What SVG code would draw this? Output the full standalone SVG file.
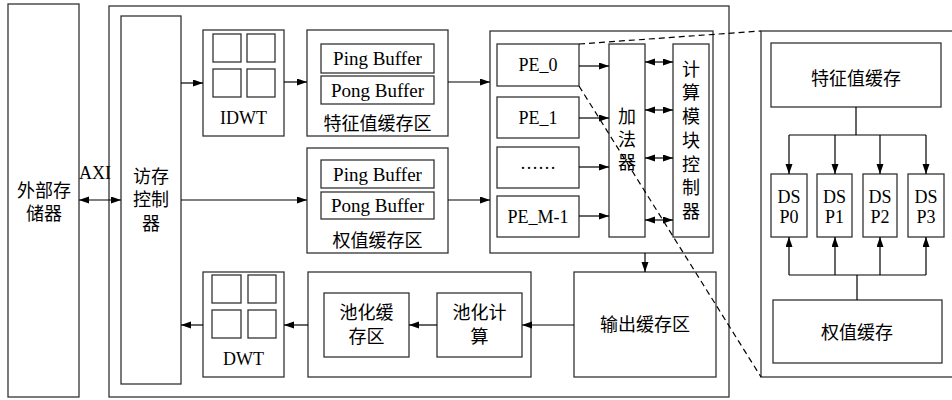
<svg xmlns="http://www.w3.org/2000/svg" width="952" height="400" viewBox="0 0 952 400">
<defs>
<marker id="ah" markerWidth="11" markerHeight="8" refX="10" refY="3.5" orient="auto-start-reverse" markerUnits="userSpaceOnUse">
<path d="M0,0 L10,3.5 L0,7 z" fill="#000"/>
</marker>
<style>
rect{fill:#fff;stroke:#333;stroke-width:1.3}
.t{font-family:"Liberation Serif","Noto Sans CJK SC",serif;font-size:18px;fill:#000;text-anchor:middle}
.b{font-size:19px}
.c{font-family:"Noto Sans CJK SC","Liberation Serif",sans-serif;font-size:18px;fill:#000;text-anchor:middle}
.ln{fill:none;stroke:#000;stroke-width:1.2}
.a{fill:none;stroke:#000;stroke-width:1.2;marker-end:url(#ah)}
.d{fill:none;stroke:#000;stroke-width:1.2;marker-end:url(#ah);marker-start:url(#ah)}
.dash{fill:none;stroke:#000;stroke-width:1.2;stroke-dasharray:6,4}
</style>
</defs>
<rect width="952" height="400" style="fill:#fff;stroke:none"/>

<g id="ext-mem">
<rect x="8" y="4" width="71" height="393"/>
<text class="c" x="44" y="197">外部存</text>
<text class="c" x="44" y="220">储器</text>
</g>

<g id="main">
<rect x="109" y="6" width="620" height="391"/>
</g>

<g id="mem-ctrl">
<rect x="121" y="16" width="60" height="368"/>
<text class="c" x="151" y="183">访存</text>
<text class="c" x="151" y="206">控制</text>
<text class="c" x="151" y="230">器</text>
</g>

<g id="idwt">
<rect x="203" y="30" width="81" height="106"/>
<rect x="213" y="34" width="28" height="28"/>
<rect x="247" y="34" width="28" height="28"/>
<rect x="213" y="69" width="28" height="28"/>
<rect x="247" y="69" width="28" height="28"/>
<text class="t" x="243.5" y="124">IDWT</text>
</g>

<g id="feat-buf">
<rect x="307" y="30" width="141" height="106"/>
<rect x="321" y="44" width="113" height="29"/>
<rect x="321" y="76" width="113" height="28"/>
<text class="t b" x="377.5" y="65">Ping Buffer</text>
<text class="t b" x="377.5" y="97">Pong Buffer</text>
<text class="c" x="377.5" y="130">特征值缓存区</text>
</g>

<g id="weight-buf">
<rect x="307" y="148" width="141" height="105"/>
<rect x="321" y="160" width="113" height="28"/>
<rect x="321" y="192" width="113" height="27"/>
<text class="t b" x="377.5" y="181">Ping Buffer</text>
<text class="t b" x="377.5" y="212">Pong Buffer</text>
<text class="c" x="377.5" y="247">权值缓存区</text>
</g>

<g id="pe-array">
<rect x="490" y="31" width="223" height="222"/>
</g>
<g id="pe0">
<rect x="497" y="44" width="82" height="42"/>
<text class="t" x="538" y="71">PE_0</text>
</g>
<g id="pe1">
<rect x="497" y="97" width="82" height="41"/>
<text class="t" x="538" y="124">PE_1</text>
</g>
<g id="pe-dots">
<rect x="497" y="147" width="82" height="41"/>
<text class="t" x="538" y="169">……</text>
</g>
<g id="pem1">
<rect x="497" y="196" width="82" height="41"/>
<text class="t" x="538" y="223">PE_M-1</text>
</g>
<g id="adder">
<rect x="609" y="44" width="36" height="193"/>
<text class="c" x="627" y="123">加</text>
<text class="c" x="627" y="146">法</text>
<text class="c" x="627" y="169">器</text>
</g>
<g id="calc-ctrl">
<rect x="673" y="44" width="36" height="193"/>
<text class="c" x="691" y="76">计</text>
<text class="c" x="691" y="99">算</text>
<text class="c" x="691" y="123">模</text>
<text class="c" x="691" y="147">块</text>
<text class="c" x="691" y="171">控</text>
<text class="c" x="691" y="194">制</text>
<text class="c" x="691" y="218">器</text>
</g>

<g id="out-buf">
<rect x="574" y="272" width="142" height="105"/>
<text class="c" x="645" y="331">输出缓存区</text>
</g>
<g id="pool">
<rect x="308" y="272" width="223" height="105"/>
</g>
<g id="pool-buf">
<rect x="324" y="293" width="85" height="64"/>
<text class="c" x="366.5" y="319">池化缓</text>
<text class="c" x="366.5" y="343">存区</text>
</g>
<g id="pool-calc">
<rect x="437" y="293" width="85" height="64"/>
<text class="c" x="479.5" y="319">池化计</text>
<text class="c" x="479.5" y="343">算</text>
</g>
<g id="dwt">
<rect x="203" y="272" width="81" height="105"/>
<rect x="212" y="275" width="29" height="28"/>
<rect x="248" y="275" width="28" height="28"/>
<rect x="212" y="310" width="29" height="28"/>
<rect x="248" y="310" width="28" height="28"/>
<text class="t" x="243.5" y="365">DWT</text>
</g>

<g id="detail">
<rect x="761" y="31" width="200" height="346"/>
</g>
<g id="feat-cache">
<rect x="771" y="43" width="170" height="64"/>
<text class="c" x="856" y="85">特征值缓存</text>
</g>
<g id="dsp0">
<rect x="771" y="174" width="36" height="63"/>
<text class="t" x="789" y="203">DS</text>
<text class="t" x="789" y="223">P0</text>
</g>
<g id="dsp1">
<rect x="817" y="174" width="35" height="63"/>
<text class="t" x="834.5" y="203">DS</text>
<text class="t" x="834.5" y="223">P1</text>
</g>
<g id="dsp2">
<rect x="863" y="174" width="34" height="63"/>
<text class="t" x="880" y="203">DS</text>
<text class="t" x="880" y="223">P2</text>
</g>
<g id="dsp3">
<rect x="908" y="174" width="36" height="63"/>
<text class="t" x="926" y="203">DS</text>
<text class="t" x="926" y="223">P3</text>
</g>
<g id="weight-cache">
<rect x="773" y="300" width="169" height="63"/>
<text class="c" x="857" y="339">权值缓存</text>
</g>

<g id="connectors">
<line class="d" x1="79" y1="200" x2="121" y2="200"/>
<text class="t" x="95" y="179">AXI</text>
<line class="a" x1="181" y1="83" x2="203" y2="83"/>
<line class="a" x1="284" y1="82" x2="307" y2="82"/>
<line class="a" x1="448" y1="82" x2="490" y2="82"/>
<line class="a" x1="181" y1="200" x2="307" y2="200"/>
<line class="a" x1="448" y1="200" x2="490" y2="200"/>
<line class="a" x1="579" y1="66" x2="609" y2="66"/>
<line class="a" x1="579" y1="118" x2="609" y2="118"/>
<line class="a" x1="579" y1="167" x2="609" y2="167"/>
<line class="a" x1="579" y1="216" x2="609" y2="216"/>
<line class="d" x1="645" y1="62" x2="673" y2="62"/>
<line class="d" x1="645" y1="110" x2="673" y2="110"/>
<line class="d" x1="645" y1="158" x2="673" y2="158"/>
<line class="d" x1="645" y1="220" x2="673" y2="220"/>
<line class="a" x1="645" y1="253" x2="645" y2="272"/>
<line class="a" x1="574" y1="325" x2="522" y2="325"/>
<line class="a" x1="437" y1="325" x2="409" y2="325"/>
<line class="a" x1="308" y1="325" x2="284" y2="325"/>
<line class="a" x1="203" y1="325" x2="181" y2="325"/>
<path class="ln" d="M856,107 V135 M789,135 H926"/>
<line class="a" x1="789" y1="135" x2="789" y2="174"/>
<line class="a" x1="835" y1="135" x2="835" y2="174"/>
<line class="a" x1="880" y1="135" x2="880" y2="174"/>
<line class="a" x1="926" y1="135" x2="926" y2="174"/>
<path class="ln" d="M857,300 V275 M789,275 H926"/>
<line class="a" x1="789" y1="275" x2="789" y2="237"/>
<line class="a" x1="835" y1="275" x2="835" y2="237"/>
<line class="a" x1="880" y1="275" x2="880" y2="237"/>
<line class="a" x1="926" y1="275" x2="926" y2="237"/>
<line class="dash" x1="579" y1="44" x2="761" y2="31"/>
<line class="dash" x1="579" y1="86" x2="761" y2="377"/>
</g>
</svg>
